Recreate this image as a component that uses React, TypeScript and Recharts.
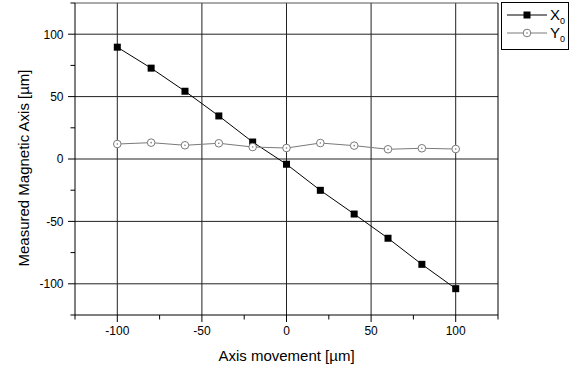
import { LineChart, Line, XAxis, YAxis, ReferenceLine } from "recharts";

// axis movement positions [µm]
const positions = [-100, -80, -60, -40, -20, 0, 20, 40, 60, 80, 100];
// measured magnetic axis [µm]
const x0Values = [89.6, 72.8, 54.3, 34.5, 13.6, -4.2, -25.1, -44.1, -63.5, -84.4, -103.9];
const y0Values = [12.0, 13.1, 11.0, 12.6, 9.6, 8.8, 12.8, 10.7, 7.8, 8.6, 8.0];

const axisTicks = [-125, -100, -75, -50, -25, 0, 25, 50, 75, 100, 125];
const gridValues = [-100, -50, 0, 50, 100];

const data = positions.map((pos, i) => ({ pos, x0: x0Values[i], y0: y0Values[i] }));

const FONT = "'Liberation Sans', Arial, sans-serif";
const GRAY = "#7a7a7a";
const Y_AXIS_W = 75;

function SquareDot({ cx, cy, index }: any) {
  return <rect key={`sq-${index}`} x={cx - 3.5} y={cy - 3.5} width={7} height={7} fill="#000" />;
}

function CircleDot({ cx, cy, index }: any) {
  return (
    <g key={`ci-${index}`}>
      <circle cx={cx} cy={cy} r={3.8} fill="#fff" stroke={GRAY} strokeWidth={1} />
      <circle cx={cx} cy={cy} r={0.8} fill={GRAY} />
    </g>
  );
}

function XTick({ y, payload }: any) {
  const v = payload.value as number;
  const axisY = y - 7 - 3;
  const major = v % 50 === 0;
  const x = payload.coordinate;
  return (
    <g>
      <line x1={x} x2={x} y1={axisY} y2={axisY + (major ? 7 : 4.5)} stroke="#000" />
      {major && (
        <text x={x} y={axisY + 19.5} textAnchor="middle" fontSize={12} fontFamily={FONT} fill="#000">
          {v}
        </text>
      )}
    </g>
  );
}

function YTick({ payload }: any) {
  const v = payload.value as number;
  const major = v % 50 === 0;
  const y = payload.coordinate;
  return (
    <g>
      <line x1={Y_AXIS_W - (major ? 7 : 4.5)} x2={Y_AXIS_W} y1={y} y2={y} stroke="#000" />
      {major && (
        <text x={63.5} y={y} dy="0.36em" textAnchor="end" fontSize={12} fontFamily={FONT} fill="#000">
          {v}
        </text>
      )}
    </g>
  );
}

function YLabel() {
  const cx = 23;
  const cy = 168;
  return (
    <text
      x={cx}
      y={cy}
      transform={`rotate(-90 ${cx} ${cy})`}
      textAnchor="middle"
      dominantBaseline="central"
      fontSize={15}
      fontFamily={FONT}
      fill="#000"
    >
      Measured Magnetic Axis [µm]
    </text>
  );
}

const legendItems = [
  { name: "X", sub: "0", color: "#000", dot: "square" },
  { name: "Y", sub: "0", color: GRAY, dot: "circle" },
];

function LegendBox() {
  return (
    <div
      style={{
        position: "absolute",
        left: 501,
        top: 2,
        width: 68,
        height: 48,
        border: "1px solid #000",
        background: "#fff",
        boxSizing: "border-box",
        fontFamily: FONT,
      }}
    >
      {legendItems.map((item, i) => (
        <div key={item.name} style={{ position: "absolute", left: 0, top: 3 + i * 18, height: 18, width: 66 }}>
          <svg width={46} height={18} style={{ position: "absolute", left: 3, top: 0 }}>
            <line x1={2} x2={42} y1={9} y2={9} stroke={item.color} strokeWidth={1} />
            {item.dot === "square" ? (
              <rect x={18.5} y={5.5} width={7} height={7} fill="#000" />
            ) : (
              <g>
                <circle cx={22} cy={9} r={3.8} fill="#fff" stroke={GRAY} />
                <circle cx={22} cy={9} r={0.8} fill={GRAY} />
              </g>
            )}
          </svg>
          <span style={{ position: "absolute", left: 48, top: 0, fontSize: 15, lineHeight: "18px", color: "#000" }}>
            {item.name}
            <sub style={{ fontSize: 9, verticalAlign: "-4px" }}>{item.sub}</sub>
          </span>
        </div>
      ))}
    </div>
  );
}

export default function App() {
  return (
    <div style={{ position: "absolute", left: 0, top: 0, width: 575, height: 371, background: "#fff" }}>
      <LineChart
        width={575}
        height={371}
        data={data}
        margin={{ top: 3, right: 77, bottom: 0, left: 0 }}
      >
        {gridValues.map((v) => (
          <ReferenceLine key={`h${v}`} y={v} stroke="#222" strokeWidth={1} />
        ))}
        {gridValues.map((v) => (
          <ReferenceLine key={`v${v}`} x={v} stroke="#222" strokeWidth={1} />
        ))}
        <ReferenceLine y={125} stroke="#555" strokeWidth={1} />
        <ReferenceLine x={125} stroke="#000" strokeWidth={1} />
        <XAxis
          type="number"
          dataKey="pos"
          domain={[-125, 125]}
          ticks={axisTicks}
          interval={0}
          height={56}
          tickSize={7}
          tickMargin={3}
          tickLine={false}
          tick={<XTick />}
          axisLine={{ stroke: "#000" }}
          allowDataOverflow
          label={{
            value: "Axis movement [µm]",
            position: "insideBottom",
            offset: 10,
            fontSize: 15,
            fontFamily: FONT,
            fill: "#000",
          }}
        />
        <YAxis
          type="number"
          domain={[-125, 125]}
          ticks={axisTicks}
          interval={0}
          width={Y_AXIS_W}
          tickSize={7}
          tickMargin={5}
          tickLine={false}
          tick={<YTick />}
          axisLine={{ stroke: "#000" }}
          allowDataOverflow
          label={<YLabel />}
        />
        <Line
          dataKey="x0"
          name="X0"
          stroke="#000"
          strokeWidth={1}
          dot={SquareDot}
          activeDot={false}
          isAnimationActive={false}
        />
        <Line
          dataKey="y0"
          name="Y0"
          stroke={GRAY}
          strokeWidth={1}
          dot={CircleDot}
          activeDot={false}
          isAnimationActive={false}
        />
      </LineChart>
      <LegendBox />
    </div>
  );
}
